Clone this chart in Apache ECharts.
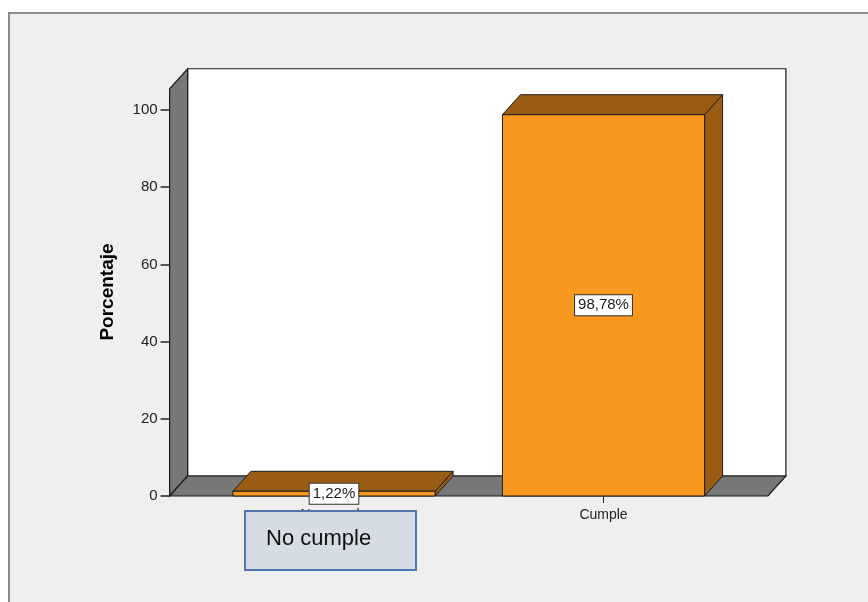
<!DOCTYPE html>
<html>
<head>
<meta charset="utf-8">
<script src="https://cdn.jsdelivr.net/npm/echarts@6/dist/echarts.min.js"></script>
<style>
  html, body { margin: 0; padding: 0; background: #ffffff; }
  #main { width: 868px; height: 602px; }
</style>
</head>
<body>
<div id="main"></div>
<script>
// Data
const categories = ['No cumple', 'Cumple'];
const percentages = [1.22, 98.78];
const yTicks = [0, 20, 40, 60, 80, 100];
const axisName = 'Porcentaje';
const noteText = 'No cumple';

// 3D look of the bars and the frame
const DEPTH_X = 18;
const DEPTH_Y = -20;
const FRAME_TOP = 105.5;   // height of the side/back walls, in axis units
const FRAME_PAD = 0.61;    // floor extends this many bands beyond the outer categories
const BAR_RATIO = 0.75;    // bar width relative to category band

const FRONT = '#f8981e';
const SHADE = '#9a5c12';
const WALL = '#777777';
const EDGE = '#1c1c1c';
const FONT = '"Liberation Sans", Arial, sans-serif';

const GRID_LEFT = 199.25;
const GRID_RIGHT = 129.75;
const GRID_TOP = 110;
const GRID_BOTTOM = 106;
const band = (868 - GRID_LEFT - GRID_RIGHT) / categories.length;
const yAxisOffset = band * (FRAME_PAD - 0.5);

const chart = echarts.init(document.getElementById('main'), null, { renderer: 'canvas' });

function fmtPct(v) {
  return v.toFixed(2).replace('.', ',') + '%';
}

// back wall, left wall and floor of the box
function renderFrame(params, api) {
  const c0 = api.coord([0, 0]);
  const c1 = api.coord([categories.length - 1, 0]);
  const bw = api.size([1, 0])[0];
  const xl = c0[0] - bw * FRAME_PAD;
  const xr = c1[0] + bw * FRAME_PAD;
  const yb = c0[1];
  const yt = api.coord([0, FRAME_TOP])[1];
  const dx = DEPTH_X, dy = DEPTH_Y;
  return {
    type: 'group',
    children: [
      {
        type: 'rect',
        shape: { x: xl + dx, y: yt + dy, width: xr - xl, height: yb - yt },
        style: { fill: '#ffffff', stroke: EDGE, lineWidth: 1.2 }
      },
      {
        type: 'polygon',
        shape: { points: [[xl, yb], [xl, yt], [xl + dx, yt + dy], [xl + dx, yb + dy]] },
        style: { fill: WALL, stroke: EDGE, lineWidth: 1.2 }
      },
      {
        type: 'polygon',
        shape: { points: [[xl, yb], [xl + dx, yb + dy], [xr + dx, yb + dy], [xr, yb]] },
        style: { fill: WALL, stroke: EDGE, lineWidth: 1.2 }
      }
    ]
  };
}

// a box-shaped bar with its value label
function renderBar(params, api) {
  const i = api.value(0);
  const v = api.value(1);
  const top = api.coord([i, v]);
  const base = api.coord([i, 0]);
  const w = api.size([1, 0])[0] * BAR_RATIO;
  const x0 = top[0] - w / 2, x1 = top[0] + w / 2;
  const yt = top[1], yb = base[1];
  const dx = DEPTH_X, dy = DEPTH_Y;
  return {
    type: 'group',
    children: [
      {
        type: 'polygon',
        shape: { points: [[x1, yt], [x1 + dx, yt + dy], [x1 + dx, yb + dy], [x1, yb]] },
        style: { fill: SHADE, stroke: EDGE, lineWidth: 1 }
      },
      {
        type: 'polygon',
        shape: { points: [[x0, yt], [x0 + dx, yt + dy], [x1 + dx, yt + dy], [x1, yt]] },
        style: { fill: SHADE, stroke: EDGE, lineWidth: 1 }
      },
      {
        type: 'rect',
        shape: { x: x0, y: yt, width: w, height: yb - yt },
        style: { fill: FRONT, stroke: EDGE, lineWidth: 1 }
      },
      {
        type: 'text',
        z2: 10,
        style: {
          text: fmtPct(v),
          x: top[0],
          y: (yt + yb) / 2,
          align: 'center',
          verticalAlign: 'middle',
          fill: '#1a1a1a',
          font: '15px ' + FONT,
          backgroundColor: '#ffffff',
          borderColor: '#333333',
          borderWidth: 1,
          padding: [3, 3, 2, 3]
        }
      }
    ]
  };
}

const option = {
  backgroundColor: '#ffffff',
  animation: false,
  grid: { left: GRID_LEFT, right: GRID_RIGHT, top: GRID_TOP, bottom: GRID_BOTTOM },
  xAxis: {
    type: 'category',
    data: categories,
    boundaryGap: true,
    axisLine: { show: false },
    axisTick: { show: true, alignWithLabel: true, length: 7, lineStyle: { color: '#222', width: 1 } },
    axisLabel: { fontSize: 14, color: '#222', margin: 12, fontFamily: FONT },
    splitLine: { show: false }
  },
  yAxis: {
    type: 'value',
    min: yTicks[0],
    max: yTicks[yTicks.length - 1],
    interval: yTicks[1] - yTicks[0],
    offset: yAxisOffset,
    axisLine: { show: false },
    axisTick: { show: true, length: 9, lineStyle: { color: '#222', width: 1.5 } },
    axisLabel: { fontSize: 15, color: '#222', margin: 12, fontFamily: FONT },
    splitLine: { show: false },
    name: axisName,
    nameLocation: 'middle',
    nameGap: 52,
    nameTextStyle: {
      fontSize: 19, fontWeight: 'bold', color: '#000', fontFamily: FONT,
      padding: [0, 0, 0, 22]
    }
  },
  series: [
    {
      type: 'custom',
      name: 'frame',
      z: 1,
      silent: true,
      clip: false,
      renderItem: renderFrame,
      data: [[0, 0]]
    },
    {
      type: 'custom',
      name: 'Porcentaje',
      z: 3,
      clip: false,
      renderItem: renderBar,
      data: percentages.map((v, i) => [i, v])
    }
  ],
  graphic: [
    {
      type: 'rect',
      z: -10,
      silent: true,
      shape: { x: 9, y: 13, width: 880, height: 620 },
      style: { fill: '#efefef', stroke: '#8c8c8c', lineWidth: 2 }
    },
    {
      type: 'rect',
      z: 100,
      silent: true,
      shape: { x: 245, y: 511, width: 171, height: 59 },
      style: { fill: '#d6dce5', stroke: '#4f77ab', lineWidth: 2 }
    },
    {
      type: 'text',
      z: 101,
      silent: true,
      style: {
        text: noteText,
        x: 266,
        y: 539,
        verticalAlign: 'middle',
        fill: '#111111',
        font: '22px ' + FONT
      }
    }
  ]
};

chart.setOption(option);
</script>
</body>
</html>
